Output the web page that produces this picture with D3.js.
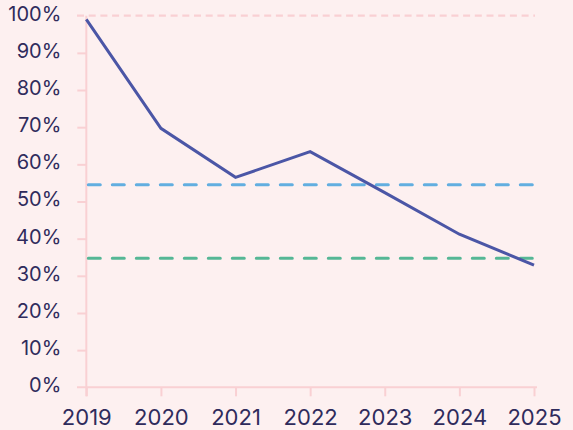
<!DOCTYPE html>
<html>
<head>
<meta charset="utf-8">
<script src="https://cdn.jsdelivr.net/npm/d3@7"></script>
<style>
  html, body { margin: 0; padding: 0; background: #fdf0f0; }
  svg { display: block; }
  text { font-family: Inter, "Noto Sans", sans-serif; fill: #2f2b5c; }
</style>
</head>
<body>
<svg id="chart" width="573" height="430"></svg>
<script>
const years = [2019, 2020, 2021, 2022, 2023, 2024, 2025];
const values = [99, 69.7, 56.5, 63.4, 52.4, 41.2, 32.9];
const refBlue = 54.5;
const refGreen = 34.7;
const yTicks = [0, 10, 20, 30, 40, 50, 60, 70, 80, 90, 100];

const svg = d3.select("#chart");
svg.append("rect").attr("width", 573).attr("height", 430).attr("fill", "#fdf0f0");

const x = d3.scaleLinear().domain([2019, 2025]).range([86.3, 534]);
const y = d3.scaleLinear().domain([0, 100]).range([387.3, 15.7]);

const axisColor = "#f9d0d3";

// y axis
const yAxis = svg.append("g").attr("transform", "translate(86.3,0)")
  .call(d3.axisLeft(y).tickValues(yTicks).tickFormat(d => d + "%").tickSize(9).tickPadding(16));
yAxis.select(".domain").remove();
yAxis.selectAll(".tick line").attr("stroke", axisColor).attr("stroke-width", 2);
yAxis.selectAll(".tick text").attr("font-size", 20).attr("dy", "0.22em");
yAxis.selectAll(".tick").filter(d => d === 100).select("line").remove();
yAxis.selectAll(".tick").filter(d => d === 0).select("line").remove();

// top dashed gridline at 100%
svg.append("line")
  .attr("x1", 77).attr("x2", 535)
  .attr("y1", y(100)).attr("y2", y(100))
  .attr("stroke", axisColor).attr("stroke-width", 2.2)
  .attr("stroke-dasharray", "7 4.7");

// y axis vertical line
svg.append("line")
  .attr("x1", x(2019)).attr("x2", x(2019))
  .attr("y1", y(100)).attr("y2", y(0) + 9)
  .attr("stroke", axisColor).attr("stroke-width", 2);

// x axis
const xAxis = svg.append("g").attr("transform", `translate(0,${y(0)})`)
  .call(d3.axisBottom(x).tickValues(years).tickFormat(d3.format("d")).tickSize(9).tickPadding(13));
xAxis.select(".domain").remove();
xAxis.selectAll(".tick line").attr("stroke", axisColor).attr("stroke-width", 2);
xAxis.selectAll(".tick text").attr("font-size", 22);

svg.append("line")
  .attr("x1", 77).attr("x2", 537)
  .attr("y1", y(0)).attr("y2", y(0))
  .attr("stroke", axisColor).attr("stroke-width", 2);

// reference lines
[[refBlue, "#62aee0"], [refGreen, "#55b795"]].forEach(([v, c]) => {
  svg.append("line")
    .attr("x1", x(2019) + 2).attr("x2", 536)
    .attr("y1", y(v)).attr("y2", y(v))
    .attr("stroke", c).attr("stroke-width", 3)
    .attr("stroke-linecap", "round")
    .attr("stroke-dasharray", "12 12");
});

// main line
const data = years.map((yr, i) => ({ yr, v: values[i] }));
svg.append("path")
  .datum(data)
  .attr("fill", "none")
  .attr("stroke", "#4b56a6")
  .attr("stroke-width", 3)
  .attr("d", d3.line().x(d => x(d.yr)).y(d => y(d.v)));
</script>
</body>
</html>
